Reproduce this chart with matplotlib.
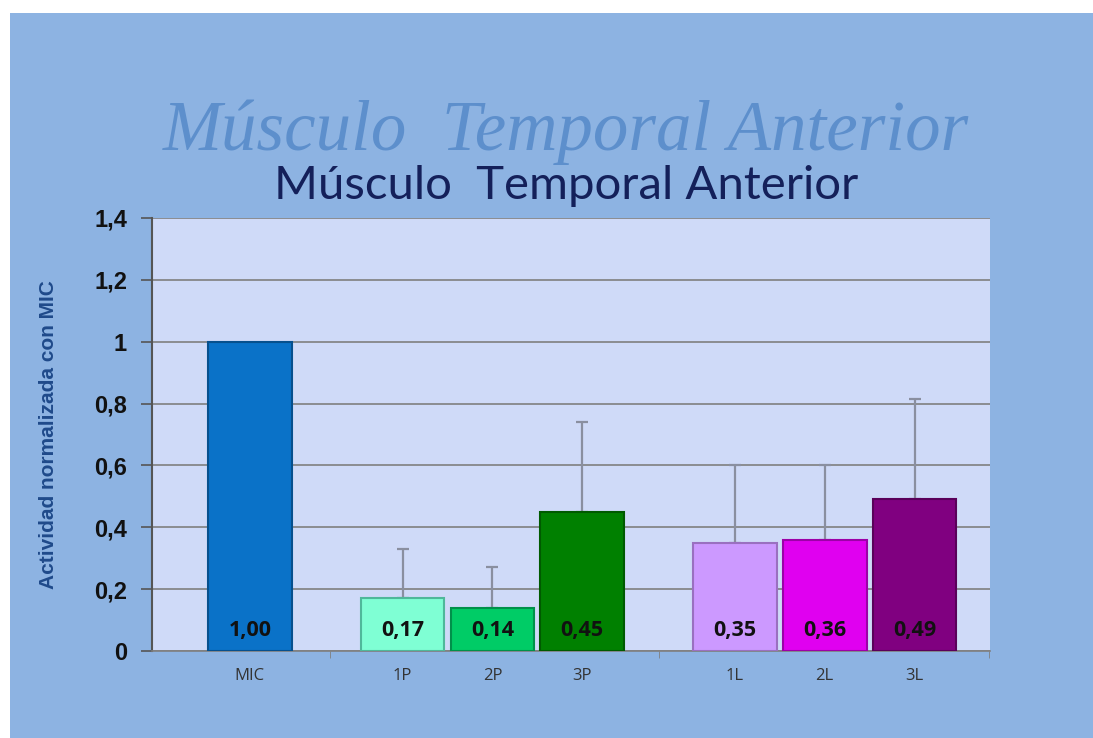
import matplotlib
matplotlib.use("Agg")
import matplotlib.pyplot as plt
from matplotlib.patches import Rectangle

# Data
categories = ["MIC", "1P", "2P", "3P", "1L", "2L", "3L"]
values = [1.00, 0.17, 0.14, 0.45, 0.35, 0.36, 0.49]
errors = [0.0, 0.16, 0.13, 0.29, 0.25, 0.24, 0.325]
value_labels = ["1,00", "0,17", "0,14", "0,45", "0,35", "0,36", "0,49"]
positions = [0.0, 1.7, 2.7, 3.7, 5.4, 6.4, 7.4]
group_ticks = [0.89, 4.56, 8.23]
y_ticks = [0, 0.2, 0.4, 0.6, 0.8, 1.0, 1.2, 1.4]
y_tick_labels = ["0", "0,2", "0,4", "0,6", "0,8", "1", "1,2", "1,4"]

bar_colors = ["#0a72c8", "#7fffd4", "#00cc66", "#008000", "#cc99ff", "#e000f0", "#800080"]
edge_colors = ["#06508e", "#4fb89a", "#00904a", "#005a00", "#9a70c0", "#9c00a8", "#5a005a"]

fig = plt.figure(figsize=(10.93, 7.38), dpi=100)
fig.patch.set_facecolor("white")
bg = Rectangle((10 / 1093, 0), 1 - 10 / 1093, 1 - 13 / 738,
               transform=fig.transFigure, facecolor="#8db3e2",
               edgecolor="none", zorder=-10)
fig.add_artist(bg)

ax = fig.add_axes([152 / 1093, 1 - 651 / 738, (990 - 152) / 1093, (651 - 218) / 738])
ax.set_zorder(1)
ax.set_facecolor("#cfdaf8")

ax.bar(positions, values, width=0.93, color=bar_colors, edgecolor=edge_colors,
       linewidth=1.5, zorder=3)
ax.errorbar(positions[1:], values[1:], yerr=[[0] * 6, errors[1:]], fmt="none",
            ecolor="#8a8fa0", elinewidth=1.6, capsize=4, capthick=1.6, zorder=2)

for x, v, lab in zip(positions, values, value_labels):
    ax.text(x, 0.065, lab, ha="center", va="center", fontsize=15.5, fontweight="bold",
            color="#111111", family="Open Sans", zorder=4)

ax.set_xlim(-1.09, 8.24)
ax.set_ylim(0, 1.4)
ax.set_yticks(y_ticks)
ax.set_yticklabels(y_tick_labels, fontsize=17, fontweight="bold",
                   family="Liberation Sans", color="#111111")
ax.yaxis.grid(True, color="#7f7f7f", linewidth=1.2, zorder=1)
ax.set_axisbelow(True)

ax.set_xticks(positions)
ax.set_xticklabels(categories, fontsize=12, color="#333333", family="Open Sans")
ax.tick_params(axis="x", length=0, pad=12)
ax.set_xticks(group_ticks, minor=True)
ax.tick_params(axis="x", which="minor", length=5, color="#7f7f7f")
ax.tick_params(axis="y", length=8, color="#555555", width=1.2, pad=10)

for side in ("top", "right"):
    ax.spines[side].set_visible(False)
ax.spines["left"].set_color("#555555")
ax.spines["left"].set_linewidth(1.5)
ax.spines["bottom"].set_color("#7f7f7f")
ax.spines["bottom"].set_linewidth(1.2)

ax.set_ylabel("Actividad normalizada con MIC", fontsize=15, fontweight="bold",
              color="#1f4a8a", family="Liberation Sans", labelpad=26)

# Decorative script heading and chart title
fig.text(0.518, 1 - 132 / 738, "Músculo  Temporal Anterior", ha="center", va="center",
         fontsize=51, style="italic", color="#5d8fcc", family="Liberation Serif")
fig.text(0.518, 1 - 186 / 738, "Músculo  Temporal Anterior", ha="center", va="center",
         fontsize=34, color="#14205a", family="Lato")

fig.savefig("out.png", dpi=100, facecolor=fig.get_facecolor())
